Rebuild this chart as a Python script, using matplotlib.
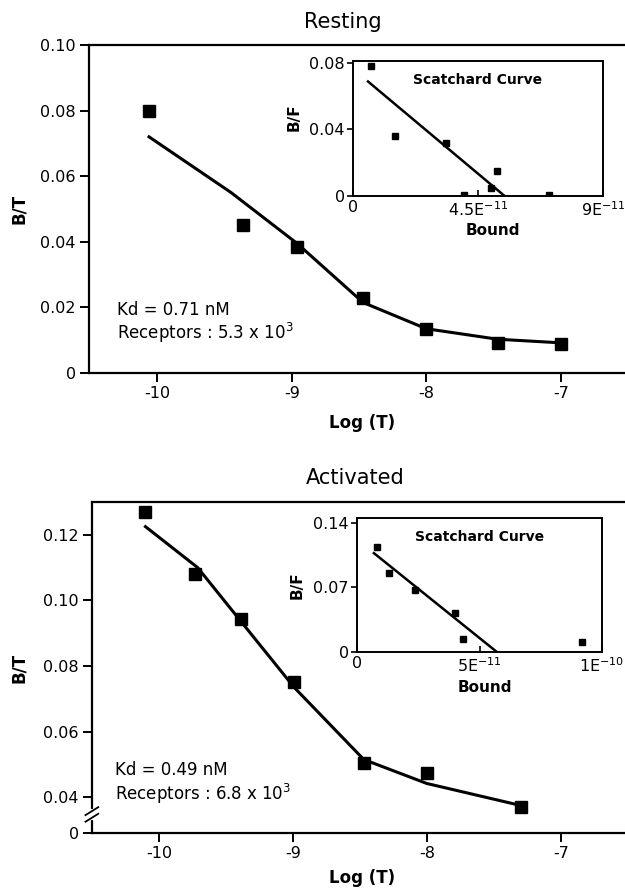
import matplotlib
matplotlib.use('Agg')
import matplotlib.pyplot as plt
import numpy as np

plt.rcParams['font.family'] = ['DejaVu Sans']

# Resting: binding curve
rest_logt = [-10.06, -9.36, -8.96, -8.47, -8.0, -7.47, -7.0]
rest_bt = [0.080, 0.045, 0.0385, 0.023, 0.0134, 0.0092, 0.0088]
rest_fit_logt = [-10.06, -9.45, -8.96, -8.47, -8.0, -7.47, -7.0]
rest_fit_bt = [0.072, 0.055, 0.0395, 0.0215, 0.0135, 0.0103, 0.0092]

# Resting: Scatchard inset
rest_bound = [0.65e-11, 1.52e-11, 3.36e-11, 3.98e-11, 4.95e-11, 5.2e-11, 7.05e-11]
rest_bf = [0.078, 0.036, 0.0316, 0.0008, 0.0048, 0.0149, 0.0006]
rest_sc_fit_x = [0.54e-11, 5.46e-11]
rest_sc_fit_y = [0.0687, 0.0]

# Activated: binding curve
act_logt = [-10.1, -9.73, -9.385, -8.99, -8.47, -8.0, -7.3]
act_bt = [0.127, 0.108, 0.0942, 0.0752, 0.0503, 0.0473, 0.037]
act_fit_logt = [-10.1, -9.71, -9.385, -8.99, -8.47, -8.0, -7.3]
act_fit_bt = [0.1225, 0.110, 0.0935, 0.0735, 0.0515, 0.0442, 0.0375]

# Activated: Scatchard inset
act_bound = [0.82e-11, 1.31e-11, 2.37e-11, 4.0e-11, 4.33e-11, 9.18e-11]
act_bf = [0.1138, 0.0853, 0.0667, 0.0427, 0.0142, 0.011]
act_sc_fit_x = [0.69e-11, 5.71e-11]
act_sc_fit_y = [0.107, 0.0]

main_xticks = [-10, -9, -8, -7]
main_xlabels = ['-10', '-9', '-8', '-7']
rest_yticks = [0, 0.02, 0.04, 0.06, 0.08, 0.10]
rest_ylabels = ['0', '0.02', '0.04', '0.06', '0.08', '0.10']
act_yticks = [0.0291, 0.04, 0.06, 0.08, 0.10, 0.12]
act_ylabels = ['0', '0.04', '0.06', '0.08', '0.10', '0.12']

rest_in_xticks = [0, 4.5e-11, 9e-11]
rest_in_xlabels = ['0', r'4.5E$^{-11}$', r'9E$^{-11}$']
rest_in_yticks = [0, 0.04, 0.08]
rest_in_ylabels = ['0', '0.04', '0.08']
act_in_xticks = [0, 5e-11, 1e-10]
act_in_xlabels = ['0', r'5E$^{-11}$', r'1E$^{-10}$']
act_in_yticks = [0, 0.07, 0.14]
act_in_ylabels = ['0', '0.07', '0.14']

fig = plt.figure(figsize=(6.25, 8.89), dpi=100)


def style_main(ax):
    for s in ['left', 'bottom', 'top']:
        ax.spines[s].set_linewidth(1.6)
    ax.spines['right'].set_visible(False)
    ax.tick_params(direction='out', length=6.5, width=1.4, labelsize=11.5, pad=3)


def style_inset(ax):
    for s in ax.spines.values():
        s.set_linewidth(1.4)
    ax.tick_params(axis='y', direction='out', length=4, width=1.2, labelsize=11.5, pad=2)
    ax.tick_params(axis='x', direction='in', length=4, width=1.2, labelsize=11.5, pad=3)


# ---- Resting ----
ax1 = fig.add_axes([0.1424, 0.5804, 0.8576, 0.369])
ax1.plot(rest_fit_logt, rest_fit_bt, color='black', lw=2.2)
ax1.plot(rest_logt, rest_bt, 'ks', markersize=9)
ax1.set_xlim(-10.506, -6.524)
ax1.set_ylim(0, 0.10)
ax1.set_xticks(main_xticks, main_xlabels)
ax1.set_yticks(rest_yticks, rest_ylabels)
style_main(ax1)
ax1.set_xlabel('Log (T)', fontsize=12, fontweight='bold')
ax1.set_ylabel('B/T', fontsize=12, fontweight='bold')
ax1.xaxis.set_label_coords(0.509, -0.125)
ax1.yaxis.set_label_coords(-0.114, 0.5)
ax1.text(-10.30, 0.0192, 'Kd = 0.71 nM', fontsize=12, va='center')
ax1.text(-10.30, 0.0122, r'Receptors : 5.3 x 10$^3$', fontsize=12, va='center')
fig.text(0.549, 0.975, 'Resting', fontsize=15, ha='center', va='center')

ins1 = fig.add_axes([0.5648, 0.7795, 0.4, 0.1519])
ins1.plot(rest_sc_fit_x, rest_sc_fit_y, color='black', lw=1.8)
ins1.plot(rest_bound, rest_bf, 'ks', markersize=5)
ins1.set_xlim(0, 9e-11)
ins1.set_ylim(0, 0.081)
ins1.set_xticks(rest_in_xticks, rest_in_xlabels)
ins1.set_yticks(rest_in_yticks, rest_in_ylabels)
style_inset(ins1)
ins1.text(0.5, 0.86, 'Scatchard Curve', transform=ins1.transAxes, fontsize=10,
          fontweight='bold', ha='center', va='center')
ins1.set_xlabel('Bound', fontsize=11, fontweight='bold')
ins1.set_ylabel('B/F', fontsize=11, fontweight='bold')
ins1.xaxis.set_label_coords(0.56, -0.20)
ins1.yaxis.set_label_coords(-0.206, 0.585)

# ---- Activated ----
ax2 = fig.add_axes([0.147, 0.063, 0.853, 0.3723])
ax2.plot(act_fit_logt, act_fit_bt, color='black', lw=2.2)
ax2.plot(act_logt, act_bt, 'ks', markersize=9)
ax2.set_xlim(-10.5, -6.52)
ax2.set_ylim(0.0291, 0.13)
ax2.set_xticks(main_xticks, main_xlabels)
ax2.set_yticks(act_yticks, act_ylabels)
style_main(ax2)
ax2.set_xlabel('Log (T)', fontsize=12, fontweight='bold')
ax2.set_ylabel('B/T', fontsize=12, fontweight='bold')
ax2.xaxis.set_label_coords(0.507, -0.109)
ax2.yaxis.set_label_coords(-0.12, 0.5)
ax2.text(-10.33, 0.0482, 'Kd = 0.49 nM', fontsize=12, va='center')
ax2.text(-10.33, 0.0409, r'Receptors : 6.8 x 10$^3$', fontsize=12, va='center')
fig.text(0.568, 0.4623, 'Activated', fontsize=15, ha='center', va='center')

# axis break marks on left spine
ax2.plot([0, 0], [0.046, 0.066], transform=ax2.transAxes, color='white', lw=3,
         clip_on=False, zorder=5)
for yb in [0.046, 0.066]:
    ax2.plot([-0.012, 0.012], [yb - 0.012, yb + 0.012], transform=ax2.transAxes,
             color='black', lw=1.3, clip_on=False, zorder=6)

ins2 = fig.add_axes([0.5712, 0.2666, 0.392, 0.1507])
ins2.plot(act_sc_fit_x, act_sc_fit_y, color='black', lw=1.8)
ins2.plot(act_bound, act_bf, 'ks', markersize=5)
ins2.set_xlim(0, 1e-10)
ins2.set_ylim(0, 0.145)
ins2.set_xticks(act_in_xticks, act_in_xlabels)
ins2.set_yticks(act_in_yticks, act_in_ylabels)
style_inset(ins2)
ins2.text(0.5, 0.86, 'Scatchard Curve', transform=ins2.transAxes, fontsize=10,
          fontweight='bold', ha='center', va='center')
ins2.set_xlabel('Bound', fontsize=11, fontweight='bold')
ins2.set_ylabel('B/F', fontsize=11, fontweight='bold')
ins2.xaxis.set_label_coords(0.52, -0.21)
ins2.yaxis.set_label_coords(-0.213, 0.5)

plt.savefig('out.png', dpi=100)
